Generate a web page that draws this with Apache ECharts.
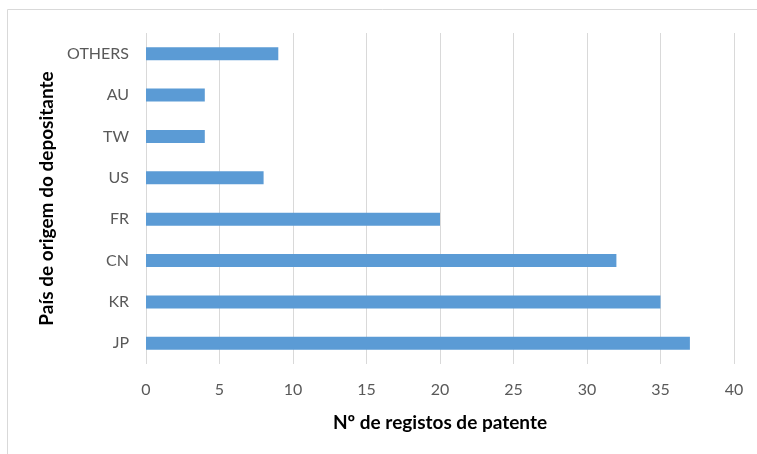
<!DOCTYPE html>
<html>
<head>
<meta charset="utf-8">
<script src="https://cdn.jsdelivr.net/npm/echarts@6/dist/echarts.min.js"></script>
<style>
  html, body { margin: 0; padding: 0; background: #fff; }
  #chart { width: 757px; height: 454px; }
</style>
</head>
<body>
<div id="chart"></div>
<script>
// categories from bottom to top
const countries = ["JP", "KR", "CN", "FR", "US", "TW", "AU", "OTHERS"];
const patentCounts = [37, 35, 32, 20, 8, 4, 4, 9];
const xTicks = [0, 5, 10, 15, 20, 25, 30, 35, 40];

const fontFamily = "Lato, 'Open Sans', sans-serif";

let myChart = echarts.init(document.getElementById("chart"));
let option = {
  animation: false,
  graphic: [
    {
      type: "rect",
      shape: { x: 7.5, y: 9.5, width: 760, height: 460 },
      style: { fill: "none", stroke: "#d9d9d9", lineWidth: 1 },
    },
  ],
  grid: { left: 146, right: 23, top: 33, bottom: 90 },
  xAxis: {
    type: "value",
    min: xTicks[0],
    max: xTicks[xTicks.length - 1],
    interval: 5,
    name: "Nº de registos de patente",
    nameLocation: "middle",
    nameGap: 49,
    nameTextStyle: { fontFamily: fontFamily, fontSize: 19, fontWeight: "bold", color: "#000" },
    axisLine: { show: false },
    axisTick: { show: false },
    axisLabel: { fontFamily: fontFamily, fontSize: 16, color: "#595959", margin: 18 },
    splitLine: { lineStyle: { color: "#d9d9d9", width: 1 } },
  },
  yAxis: {
    type: "category",
    data: countries,
    name: "País de origem do depositante",
    nameLocation: "middle",
    nameGap: 90,
    nameTextStyle: { fontFamily: fontFamily, fontSize: 19, fontWeight: "bold", color: "#000" },
    axisLine: { show: false },
    axisTick: { show: false },
    axisLabel: { fontFamily: fontFamily, fontSize: 16, color: "#595959", margin: 17 },
  },
  series: [
    {
      type: "bar",
      data: patentCounts,
      barWidth: 13,
      itemStyle: { color: "#5b9bd5" },
    },
  ],
};
myChart.setOption(option);
</script>
</body>
</html>
